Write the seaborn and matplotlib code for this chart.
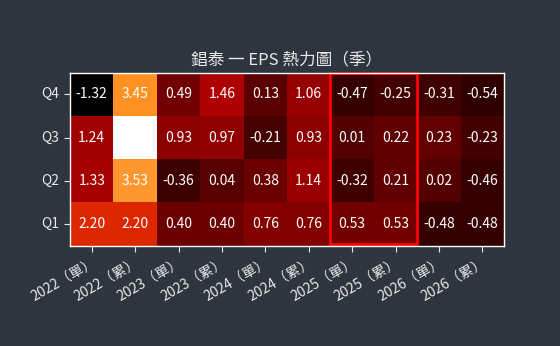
import numpy as np
import pandas as pd
import matplotlib
matplotlib.use("Agg")
import matplotlib.pyplot as plt
import seaborn as sns
from matplotlib.patches import Rectangle

# EPS data
columns = ["2022（單）", "2022（累）", "2023（單）", "2023（累）", "2024（單）",
           "2024（累）", "2025（單）", "2025（累）", "2026（單）", "2026（累）"]
quarters = ["Q4", "Q3", "Q2", "Q1"]
q4 = [-1.32, 3.45, 0.49, 1.46, 0.13, 1.06, -0.47, -0.25, -0.31, -0.54]
q3 = [1.24, 4.77, 0.93, 0.97, -0.21, 0.93, 0.01, 0.22, 0.23, -0.23]
q2 = [1.33, 3.53, -0.36, 0.04, 0.38, 1.14, -0.32, 0.21, 0.02, -0.46]
q1 = [2.20, 2.20, 0.40, 0.40, 0.76, 0.76, 0.53, 0.53, -0.48, -0.48]

df = pd.DataFrame([q4, q3, q2, q1], index=quarters, columns=columns)

bg = "#2e353f"
fg = "#e8e8e8"
sns.set_style("dark")
plt.rcParams["font.family"] = ["Noto Sans CJK TC", "DejaVu Sans"]

fig = plt.figure(figsize=(5.6, 3.46), dpi=100, facecolor=bg)
ax = fig.add_axes([0.125, 0.29, 0.775, 0.5])
ax.set_facecolor(bg)

sns.heatmap(df, ax=ax, cmap="gist_heat", annot=True, fmt=".2f", cbar=False,
            annot_kws={"color": "white", "fontsize": 10})

# highlight 2025 columns (top edge sits under the frame)
ax.add_patch(Rectangle((6, 0), 2, 3.97, fill=False, edgecolor="red", lw=2,
                       clip_on=False, zorder=2))

for s in ax.spines.values():
    s.set_visible(True)
    s.set_color("white")
    s.set_linewidth(1)
    s.set_zorder(3)

ax.set_title("錩泰 一 EPS 熱力圖（季）", color=fg, fontsize=12)
ax.set_xlabel("")
ax.set_ylabel("")
ax.tick_params(colors=fg, labelsize=10, length=4, bottom=True, left=True)
plt.setp(ax.get_xticklabels(), rotation=30, ha="right", rotation_mode="anchor")
plt.setp(ax.get_yticklabels(), rotation=0)

fig.savefig("out.png", facecolor=bg)
